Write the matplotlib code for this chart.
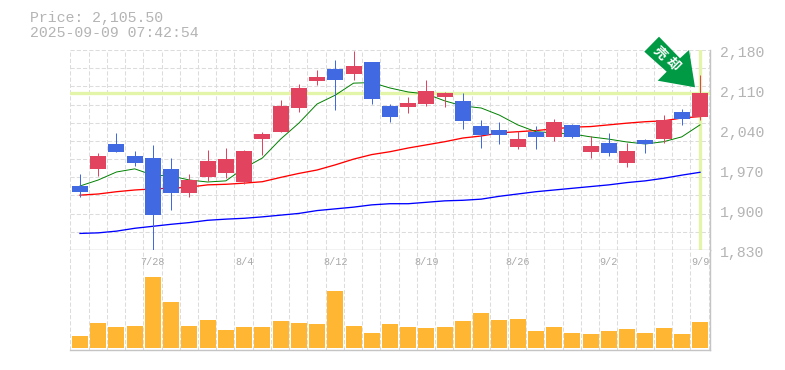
#!/usr/bin/env python3
"""Daily candlestick chart with moving averages and a volume panel."""

from __future__ import annotations

import matplotlib

matplotlib.use("Agg")

import matplotlib.pyplot as plt
import numpy as np
from matplotlib.patches import Polygon

WIDTH, HEIGHT = 785, 370

HEADER_PRICE = "Price: 2,105.50"
HEADER_TIME = "2025-09-09 07:42:54"
LAST_PRICE = 2105.5

high = [1963, 2000, 2035, 2003, 2014, 1991, 1963, 2005, 2008.5, 2005, 2036.5, 2092.5,
        2120.5, 2145, 2162.5, 2178, 2159, 2085.5, 2098, 2127.5, 2106.5, 2105, 2057.5, 2054,
        2038, 2047, 2059, 2050.5, 2029.5, 2035, 2017, 2024, 2066, 2077, 2136]
low = [1923, 1959.5, 2001.5, 1977, 1830, 1900, 1923, 1951, 1956, 1945.5, 1996, 2036.5,
       2071.5, 2119, 2075, 2127.5, 2085.5, 2054, 2070, 2082, 2080, 2042, 2008.5, 2015.5,
       2007, 2007, 2021, 2026, 1991, 1994.5, 1975, 2000, 2017, 2049, 2057.5]
open_ = [1942, 1972, 2015.5, 1994.5, 1991, 1972, 1930, 1958, 1965, 1949, 2024, 2036.5,
         2078.5, 2126, 2147, 2138, 2159, 2082, 2080, 2085.5, 2098, 2091, 2047, 2040,
         2010, 2036.5, 2028, 2049, 2001.5, 2017, 1982, 2022.5, 2024, 2071.5, 2063]
close = [1932, 1994.5, 2001.5, 1982, 1891, 1930, 1952.5, 1986, 1989, 2003, 2033, 2082,
         2113.5, 2133, 2127.5, 2152, 2094, 2063, 2087, 2108, 2105, 2056, 2031, 2031,
         2024, 2028, 2054, 2028, 2012, 2000, 2003, 2015.5, 2057.5, 2059, 2105.5]

ma_short = [1942, 1952.5, 1966.5, 1972, 1961, 1959.5, 1952.5, 1949, 1951, 1973.5, 1991, 2024,
            2052, 2085.5, 2101, 2122, 2123, 2113.5, 2106.5, 2103, 2091, 2082, 2078.5, 2066,
            2049, 2037, 2035, 2033, 2028, 2024, 2019, 2015.5, 2019.5, 2028, 2049]
ma_mid = [1926, 1928, 1932, 1935, 1937, 1938, 1940, 1944, 1945, 1947, 1949.5, 1957,
          1964, 1970, 1979, 1989, 1997, 2002, 2008.5, 2014, 2019.5, 2026, 2029.5, 2035,
          2037, 2039, 2042, 2045, 2046, 2049, 2052, 2054.5, 2056, 2061, 2063.5]
ma_long = [1859, 1860, 1863, 1868, 1871.5, 1875, 1878, 1882, 1884, 1885.5, 1888, 1891,
           1894, 1899, 1902, 1905, 1909, 1911, 1911, 1913.5, 1916, 1917, 1919, 1924,
           1928, 1932, 1935, 1938, 1941, 1944, 1948, 1951, 1955.5, 1961, 1966]

volume = [12, 25, 21, 22, 71, 46, 22, 28, 18, 21, 21, 27, 25, 24, 57, 22, 15, 24,
          21, 20, 21, 27, 35, 28, 29, 17, 21, 15, 14, 17, 19, 15, 20, 14, 26]

price_ticks = [2180, 2110, 2040, 1970, 1900, 1830]
date_ticks = [4, 9, 14, 19, 24, 29, 34]
date_labels = ["7/28", "8/4", "8/12", "8/19", "8/26", "9/2", "9/9"]

UP = "#e2445f"
DOWN = "#4169e1"
GRID = "#dcdcdc"
AXIS = "#c4c4c4"
TEXT = "#b4b4b4"
HIGHLIGHT = "#e2f5a8"
VOLUME = "#ffb733"
ARROW = "#009944"
MONO = "Liberation Mono"

plt.rcParams["font.family"] = [MONO, "DejaVu Sans"]


def px_axes(fig, left, top, right, bottom):
    return fig.add_axes([
        left / WIDTH,
        (HEIGHT - bottom) / HEIGHT,
        (right - left) / WIDTH,
        (bottom - top) / HEIGHT,
    ])


def style_axes(ax):
    ax.set_xlim(-0.548, 34.548)
    ax.set_xticks(np.arange(36) - 0.53)
    ax.tick_params(length=0, labelbottom=False, labelleft=False)
    ax.grid(axis="x", color=GRID, linewidth=0.75, linestyle=(0, (4, 2)))
    ax.set_axisbelow(True)
    for side in ("top", "left"):
        ax.spines[side].set_visible(False)
    for side in ("bottom", "right"):
        ax.spines[side].set_color(AXIS)
        ax.spines[side].set_linewidth(1.0)


def draw_price(ax):
    x = np.arange(len(close))
    opens = np.array(open_)
    closes = np.array(close)
    colors = [UP if c > o else DOWN for o, c in zip(opens, closes)]

    style_axes(ax)
    ax.set_ylim(1830, 2180)
    ax.set_yticks(np.linspace(1830, 2180, 12))
    ax.grid(axis="y", color=GRID, linewidth=0.75, linestyle=(0, (4, 2)))

    ax.axhline(LAST_PRICE, color=HIGHLIGHT, linewidth=2.4, zorder=1.5)
    ax.axvline(x[-1], color=HIGHLIGHT, linewidth=2.4, zorder=1.5)

    ax.plot(x, ma_long, color="#0000ff", linewidth=0.95, zorder=2)
    ax.plot(x, ma_mid, color="#ff0000", linewidth=0.95, zorder=2)
    ax.plot(x, ma_short, color="#008000", linewidth=0.7, zorder=2)

    ax.vlines(x, low, high, colors=colors, linewidth=0.72, zorder=3)
    ax.bar(
        x,
        np.abs(closes - opens),
        bottom=np.minimum(opens, closes),
        width=0.877,
        color=colors,
        antialiased=False,
        zorder=4,
    )

    for price in price_ticks:
        ax.annotate(
            f"{price:,}",
            xy=(1, price),
            xycoords=ax.get_yaxis_transform(),
            xytext=(10, -3),
            textcoords="offset pixels",
            ha="left",
            va="center",
            color=TEXT,
            fontsize=10.7,
            annotation_clip=False,
        )


def draw_volume(ax):
    style_axes(ax)
    ax.set_ylim(-2, 98)
    ax.set_yticks([])
    ax.bar(np.arange(len(volume)), volume, width=0.877, color=VOLUME, antialiased=False, zorder=3)
    for idx, label in zip(date_ticks, date_labels):
        ax.annotate(
            label,
            xy=(idx, 1),
            xycoords=ax.get_xaxis_transform(),
            xytext=(0, -12),
            textcoords="offset pixels",
            ha="center",
            va="center",
            color="#a8a8a8",
            fontsize=7.3,
            zorder=5,
        )


def draw_arrow(fig):
    # callout shape, in pixels from the top left of the picture
    shape = [(644.3, 51.7), (659, 36.7), (680, 58.3), (689, 50),
             (695, 87.3), (657.7, 80.7), (666.7, 71.7)]
    pts = [(sx / WIDTH, 1 - sy / HEIGHT) for sx, sy in shape]
    fig.add_artist(Polygon(pts, closed=True, facecolor=ARROW, edgecolor="none",
                           transform=fig.transFigure, zorder=10))
    for char, (sx, sy) in zip("売却", [(660, 53.5), (672.5, 64.5)]):
        fig.text(
            sx / WIDTH,
            1 - sy / HEIGHT,
            char,
            color="white",
            fontsize=9.5,
            fontweight="bold",
            family=["Noto Sans CJK JP", "DejaVu Sans"],
            rotation=-45,
            rotation_mode="anchor",
            ha="center",
            va="center",
            zorder=11,
        )


def main() -> None:
    fig = plt.figure(figsize=(WIDTH / 100, HEIGHT / 100), dpi=100, facecolor="white")

    price_ax = px_axes(fig, 70, 50, 710, 250)
    volume_ax = px_axes(fig, 70, 250, 710, 350)
    draw_price(price_ax)
    draw_volume(volume_ax)
    draw_arrow(fig)

    for text, y in ((HEADER_PRICE, 18), (HEADER_TIME, 33)):
        fig.text(30 / WIDTH, 1 - y / HEIGHT, text, color=TEXT, fontsize=10.7,
                 va="center", ha="left")

    fig.savefig("out.png", dpi=100)
    plt.close(fig)


if __name__ == "__main__":
    main()
